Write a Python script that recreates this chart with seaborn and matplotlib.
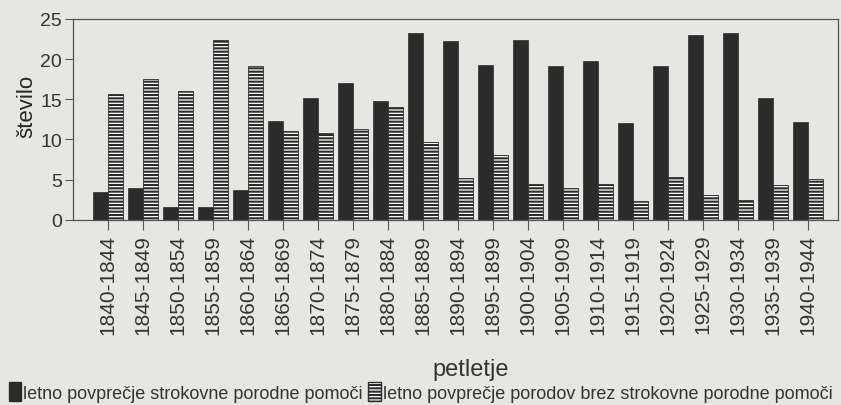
import pandas as pd
import matplotlib
matplotlib.use("Agg")
import matplotlib.pyplot as plt
from matplotlib.patches import Patch
import seaborn as sns

# podatki, odčitani s slike
periods = ["1840-1844", "1845-1849", "1850-1854", "1855-1859", "1860-1864",
           "1865-1869", "1870-1874", "1875-1879", "1880-1884", "1885-1889",
           "1890-1894", "1895-1899", "1900-1904", "1905-1909", "1910-1914",
           "1915-1919", "1920-1924", "1925-1929", "1930-1934", "1935-1939",
           "1940-1944"]
with_help = [3.5, 4.0, 1.6, 1.6, 3.7, 12.3, 15.2, 17.0, 14.8, 23.3, 22.2,
             19.25, 22.4, 19.2, 19.7, 12.0, 19.1, 23.0, 23.2, 15.2, 12.2]
without_help = [15.6, 17.5, 16.0, 22.4, 19.2, 11.1, 10.8, 11.25, 14.0, 9.7, 5.2,
                8.1, 4.5, 4.0, 4.4, 2.4, 5.3, 3.1, 2.5, 4.3, 5.1]
series_names = ["letno povprečje strokovne porodne pomoči",
                "letno povprečje porodov brez strokovne porodne pomoči"]

df = pd.DataFrame({"petletje": periods * 2,
                   "število": with_help + without_help,
                   "serija": [series_names[0]] * len(periods) + [series_names[1]] * len(periods)})

sns.set_style("ticks")
bg = "#e6e6e3"
dark = "#2b2b2b"
plt.rcParams["font.family"] = ["Liberation Sans", "DejaVu Sans"]
plt.rcParams["hatch.linewidth"] = 1.5
plt.rcParams["text.color"] = "#333333"
plt.rcParams["xtick.color"] = "#555555"
plt.rcParams["ytick.color"] = "#555555"
plt.rcParams["xtick.labelcolor"] = "#333333"
plt.rcParams["ytick.labelcolor"] = "#333333"

fig = plt.figure(figsize=(8.41, 4.06), dpi=100, facecolor=bg)
ax = fig.add_axes([0.087, 0.456, 0.909, 0.495], facecolor=bg)

sns.barplot(data=df, x="petletje", y="število", hue="serija", ax=ax,
            palette=[dark, "white"], width=0.86, saturation=1, legend=False)

# druga serija: bela s črtami
for bar in ax.containers[1]:
    bar.set_facecolor("white")
    bar.set_edgecolor(dark)
    bar.set_hatch("-----")
    bar.set_linewidth(0.6)
for bar in ax.containers[0]:
    bar.set_edgecolor(dark)
    bar.set_linewidth(0.5)

ax.set_ylim(0, 25)
ax.set_yticks([0, 5, 10, 15, 20, 25])
ax.set_xlim(-1, 20.86)
ax.tick_params(axis="y", labelsize=14, length=6, width=0.8, pad=2)
ax.tick_params(axis="x", labelsize=15, length=7, width=0.8, pad=3, labelrotation=90)
for s in ax.spines.values():
    s.set_color("#555555")
    s.set_linewidth(0.9)
ax.set_ylabel("število", fontsize=16)
ax.yaxis.set_label_coords(-0.047, 0.567)
ax.set_xlabel("")
fig.text(0.56, 0.062, "petletje", ha="center", va="bottom", fontsize=17)

handles = [Patch(facecolor=dark, edgecolor=dark),
           Patch(facecolor="white", edgecolor=dark, hatch="-----")]
fig.legend(handles, series_names, loc="lower center", bbox_to_anchor=(0.5, -0.01),
           ncol=2, frameon=False, handlelength=0.7, handleheight=1.2,
           handletextpad=0.1, columnspacing=0.3, borderaxespad=0,
           prop={"family": ["Liberation Sans Narrow", "Liberation Sans"], "size": 13})

fig.savefig("out.png", dpi=100, facecolor=bg)
